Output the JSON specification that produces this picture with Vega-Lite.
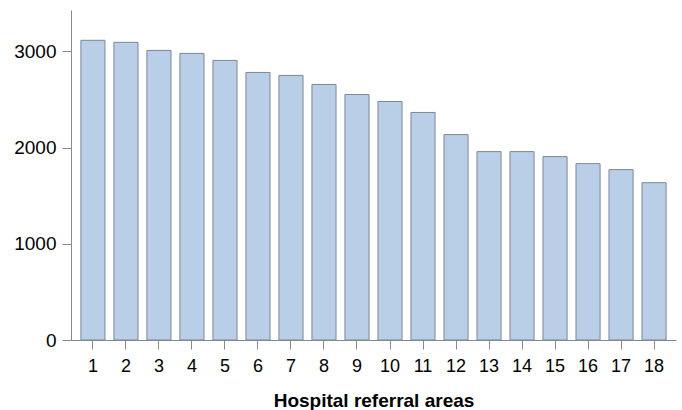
{
  "$schema": "https://vega.github.io/schema/vega-lite/v6.json",
  "autosize": "none",
  "padding": {"left": 71, "top": 10, "right": 6, "bottom": 70},
  "width": 605,
  "height": 330,
  "background": "white",
  "config": {"view": {"stroke": null}, "font": "Liberation Sans"},
  "data": {"values": [
    {"area": 1, "value": 3115},
    {"area": 2, "value": 3094},
    {"area": 3, "value": 3010},
    {"area": 4, "value": 2979},
    {"area": 5, "value": 2906},
    {"area": 6, "value": 2781},
    {"area": 7, "value": 2750},
    {"area": 8, "value": 2656},
    {"area": 9, "value": 2552},
    {"area": 10, "value": 2479},
    {"area": 11, "value": 2365},
    {"area": 12, "value": 2135},
    {"area": 13, "value": 1958},
    {"area": 14, "value": 1958},
    {"area": 15, "value": 1906},
    {"area": 16, "value": 1833},
    {"area": 17, "value": 1771},
    {"area": 18, "value": 1635}
  ]},
  "mark": {"type": "bar", "fill": "#b9cfe8", "stroke": "#7d8794", "strokeWidth": 1},
  "encoding": {
    "x": {
      "field": "area", "type": "ordinal",
      "scale": {"paddingInner": 0.27, "paddingOuter": 0.3},
      "axis": {
        "title": "Hospital referral areas",
        "titleFontSize": 19, "titleFontWeight": "bold", "titleColor": "black", "titlePadding": 16,
        "labelAngle": 0, "labelFontSize": 18, "labelColor": "black", "labelPadding": 8,
        "tickSize": 9, "tickColor": "#888", "domainColor": "#888", "grid": false
      }
    },
    "y": {
      "field": "value", "type": "quantitative",
      "scale": {"domain": [0, 3430], "nice": false},
      "axis": {
        "title": null, "values": [0, 1000, 2000, 3000], "format": "d",
        "labelFontSize": 19, "labelColor": "black", "labelPadding": 6,
        "tickSize": 9, "tickColor": "#888", "domainColor": "#888", "grid": false
      }
    }
  }
}
